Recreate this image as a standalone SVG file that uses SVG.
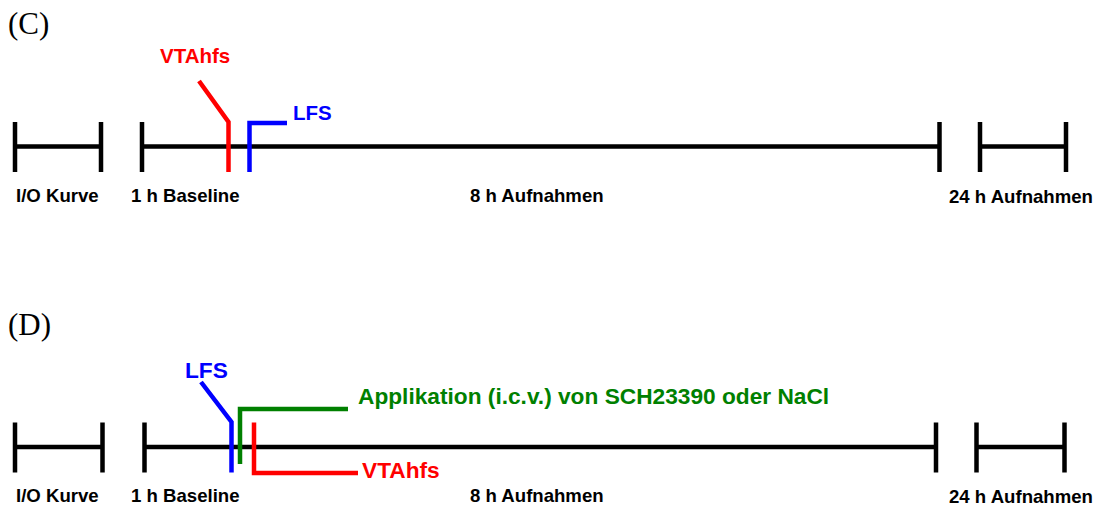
<svg xmlns="http://www.w3.org/2000/svg" width="1097" height="509" viewBox="0 0 1097 509">
  <style>
    .bg { fill: #ffffff; }
    .axis { stroke: #000000; stroke-width: 4.5; fill: none; stroke-linecap: butt; }
    .mark { stroke-width: 4.5; fill: none; stroke-linejoin: miter; stroke-linecap: butt; }
    .red { stroke: #ff0000; }
    .blue { stroke: #0000ff; }
    .green { stroke: #008000; }
    .panel { font-family: "Liberation Serif", "Times New Roman", serif; font-size: 31px; fill: #000000; }
    .lbl { font-family: "Liberation Sans", Arial, sans-serif; font-weight: bold; font-size: 18.6px; fill: #000000; }
    .tagC { font-family: "Liberation Sans", Arial, sans-serif; font-weight: bold; font-size: 20.5px; }
    .tagD { font-family: "Liberation Sans", Arial, sans-serif; font-weight: bold; font-size: 22.7px; }
    .tRed { fill: #ff0000; }
    .tBlue { fill: #0000ff; }
    .tGreen { fill: #008000; }
  </style>
  <rect class="bg" x="0" y="0" width="1097" height="509"/>

  <!-- Panel C -->
  <text class="panel" x="8" y="34">(C)</text>
  <g id="c-io">
    <path class="axis" d="M15 122V172M101 122V172M15 146.5H101"/>
    <text class="lbl" x="16" y="202">I/O Kurve</text>
  </g>
  <g id="c-main">
    <path class="axis" d="M142 122V172M939.5 122V172M142 146.5H939.5"/>
    <text class="lbl" x="131" y="202">1 h Baseline</text>
    <text class="lbl" x="470" y="202">8 h Aufnahmen</text>
  </g>
  <g id="c-24h">
    <path class="axis" d="M980 122V172M1066 122V172M980 146.5H1066"/>
    <text class="lbl" x="949" y="203">24 h Aufnahmen</text>
  </g>
  <g id="c-markers">
    <polyline class="mark red" points="199,81 228.5,122 228.5,172"/>
    <text class="tagC tRed" x="160" y="63">VTAhfs</text>
    <polyline class="mark blue" points="249.5,172 249.5,123 287,123"/>
    <text class="tagC tBlue" x="293" y="120">LFS</text>
  </g>

  <!-- Panel D -->
  <text class="panel" x="8" y="335">(D)</text>
  <g id="d-io">
    <path class="axis" d="M15 422.5V472.5M102.5 422.5V472.5M15 447H102.5"/>
    <text class="lbl" x="16" y="502">I/O Kurve</text>
  </g>
  <g id="d-main">
    <path class="axis" d="M144.5 422.5V472.5M936 422.5V472.5M144.5 447H936"/>
    <text class="lbl" x="131" y="502">1 h Baseline</text>
    <text class="lbl" x="470" y="502">8 h Aufnahmen</text>
  </g>
  <g id="d-24h">
    <path class="axis" d="M976.5 422.5V472.5M1064.5 422.5V472.5M976.5 447H1064.5"/>
    <text class="lbl" x="949" y="503">24 h Aufnahmen</text>
  </g>
  <g id="d-markers">
    <polyline class="mark blue" points="201,382 231.5,422 231.5,472.5"/>
    <text class="tagD tBlue" x="185" y="378">LFS</text>
    <polyline class="mark green" points="240,464 240,409 348,409"/>
    <text class="tagD tGreen" x="358" y="404">Applikation (i.c.v.) von SCH23390 oder NaCl</text>
    <polyline class="mark red" points="254,422.5 254,473 358,473"/>
    <text class="tagD tRed" x="362" y="478">VTAhfs</text>
  </g>
</svg>
